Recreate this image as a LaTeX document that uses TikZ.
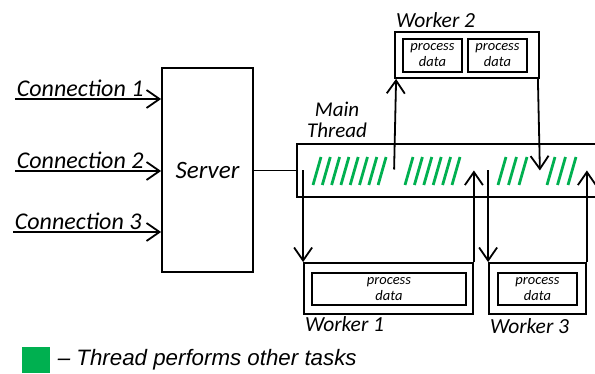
\documentclass[tikz,border=0pt]{standalone}
\usepackage{fontspec}
\setmainfont{Carlito}
\newfontfamily\legendfont{Liberation Sans}
\usetikzlibrary{arrows.meta, positioning}
\definecolor{taskgreen}{RGB}{0,176,80}
\tikzstyle{diagram}=[x=1pt, y=-1pt, line width=1.8pt, font=\itshape\fontsize{24}{26}\selectfont]
\tikzstyle{flow}=[-{Straight Barb[length=13pt,width=18pt,line width=1.8pt]}]
\tikzstyle{box}=[draw, rectangle, inner sep=0pt]
\tikzstyle{task}=[box, font=\itshape\fontsize{14.5}{16}\selectfont, align=center]
\tikzstyle{hatch}=[taskgreen, line width=2.8pt]
\tikzstyle{label}=[inner sep=1pt]
\tikzstyle{workerlabel}=[label, font=\itshape\fontsize{21.5}{23}\selectfont]
\newcommand{\hatches}[3]{\foreach \i in {1,...,#2} \draw[hatch] ({#1+(\i-1)*#3},185) -- ++(8,-28);}

\begin{document}
\begin{tikzpicture}[diagram]
  \useasboundingbox (0,0) rectangle (595,374);
  % server and incoming connections
  \node[box, minimum width=91pt, minimum height=204pt, font=\itshape\fontsize{25}{27}\selectfont] (server) at (207.5,170) {Server};
  \coordinate (c1) at (15,99);
  \coordinate (c2) at (15,171);
  \coordinate (c3) at (13,232);
  \draw[flow] (c1) -- (c1 -| server.west);
  \draw[flow] (c2) -- (c2 -| server.west);
  \draw[flow] (c3) -- (c3 -| server.west);
  \node[label, above right] at (c1) {Connection 1};
  \node[label, above right] at (c2) {Connection 2};
  \node[label, above right] at (c3) {Connection 3};
  % main thread
  \node[minimum width=300pt, minimum height=51pt, inner sep=0pt] (main) at (448,170.5) {};
  \draw (main.north east) -- (main.north west) -- (main.south west) -- (main.south east);
  \draw (server.east |- main) -- (main.west);
  \node[label, align=center, font=\itshape\fontsize{21}{21}\selectfont] (mainlabel) at (337,120) {Main\\Thread};
  \hatches{313}{8}{9.3}
  \hatches{405}{6}{9.4}
  \hatches{498}{3}{10.5}
  \hatches{547}{3}{10.5}
  % workers
  \node[box, minimum width=144pt, minimum height=46pt] (w2) at (467,55) {};
  \node[task, minimum width=59pt, minimum height=33pt] (w2a) at (432.5,55.5) {process\\data};
  \node[task, minimum width=59pt, minimum height=33pt] (w2b) at (497.5,55.5) {process\\data};
  \node[box, minimum width=169pt, minimum height=51pt] (w1) at (388.5,288.5) {};
  \node[task, minimum width=154pt, minimum height=32pt] (w1a) at (389,289) {process\\data};
  \node[box, minimum width=97pt, minimum height=51pt] (w3) at (537.5,288.5) {};
  \node[task, minimum width=79pt, minimum height=32pt] (w3a) at (537.5,289) {process\\data};
  \node[workerlabel, above right] at ([yshift=2pt]w2.north west) {Worker 2};
  \node[workerlabel, below right] at (w1.south west) {Worker 1};
  \node[workerlabel, below right] at ([yshift=-2pt]w3.south west) {Worker 3};
  % hand-offs between main thread and workers
  \draw[flow] ([yshift=1pt]w2.south west |- main) -- ([xshift=2pt]w2.south west);
  \draw[flow] ([xshift=-2pt]w2.south east) -- (w2.south east |- main);
  \draw[flow] (w1.north west |- main) -- (w1.north west);
  \draw[flow] (w1.north east) -- (w1.north east |- main);
  \draw[flow] (w3.north west |- main) -- (w3.north west);
  \draw[flow] (w3.north east) -- (w3.north east |- main);
  % legend
  \fill[taskgreen] (22,347) rectangle (50,373);
  \node[label, right, font=\legendfont\itshape\fontsize{22.3}{24}\selectfont] (legend) at (56,360) {– Thread performs other tasks};
\end{tikzpicture}
\end{document}
